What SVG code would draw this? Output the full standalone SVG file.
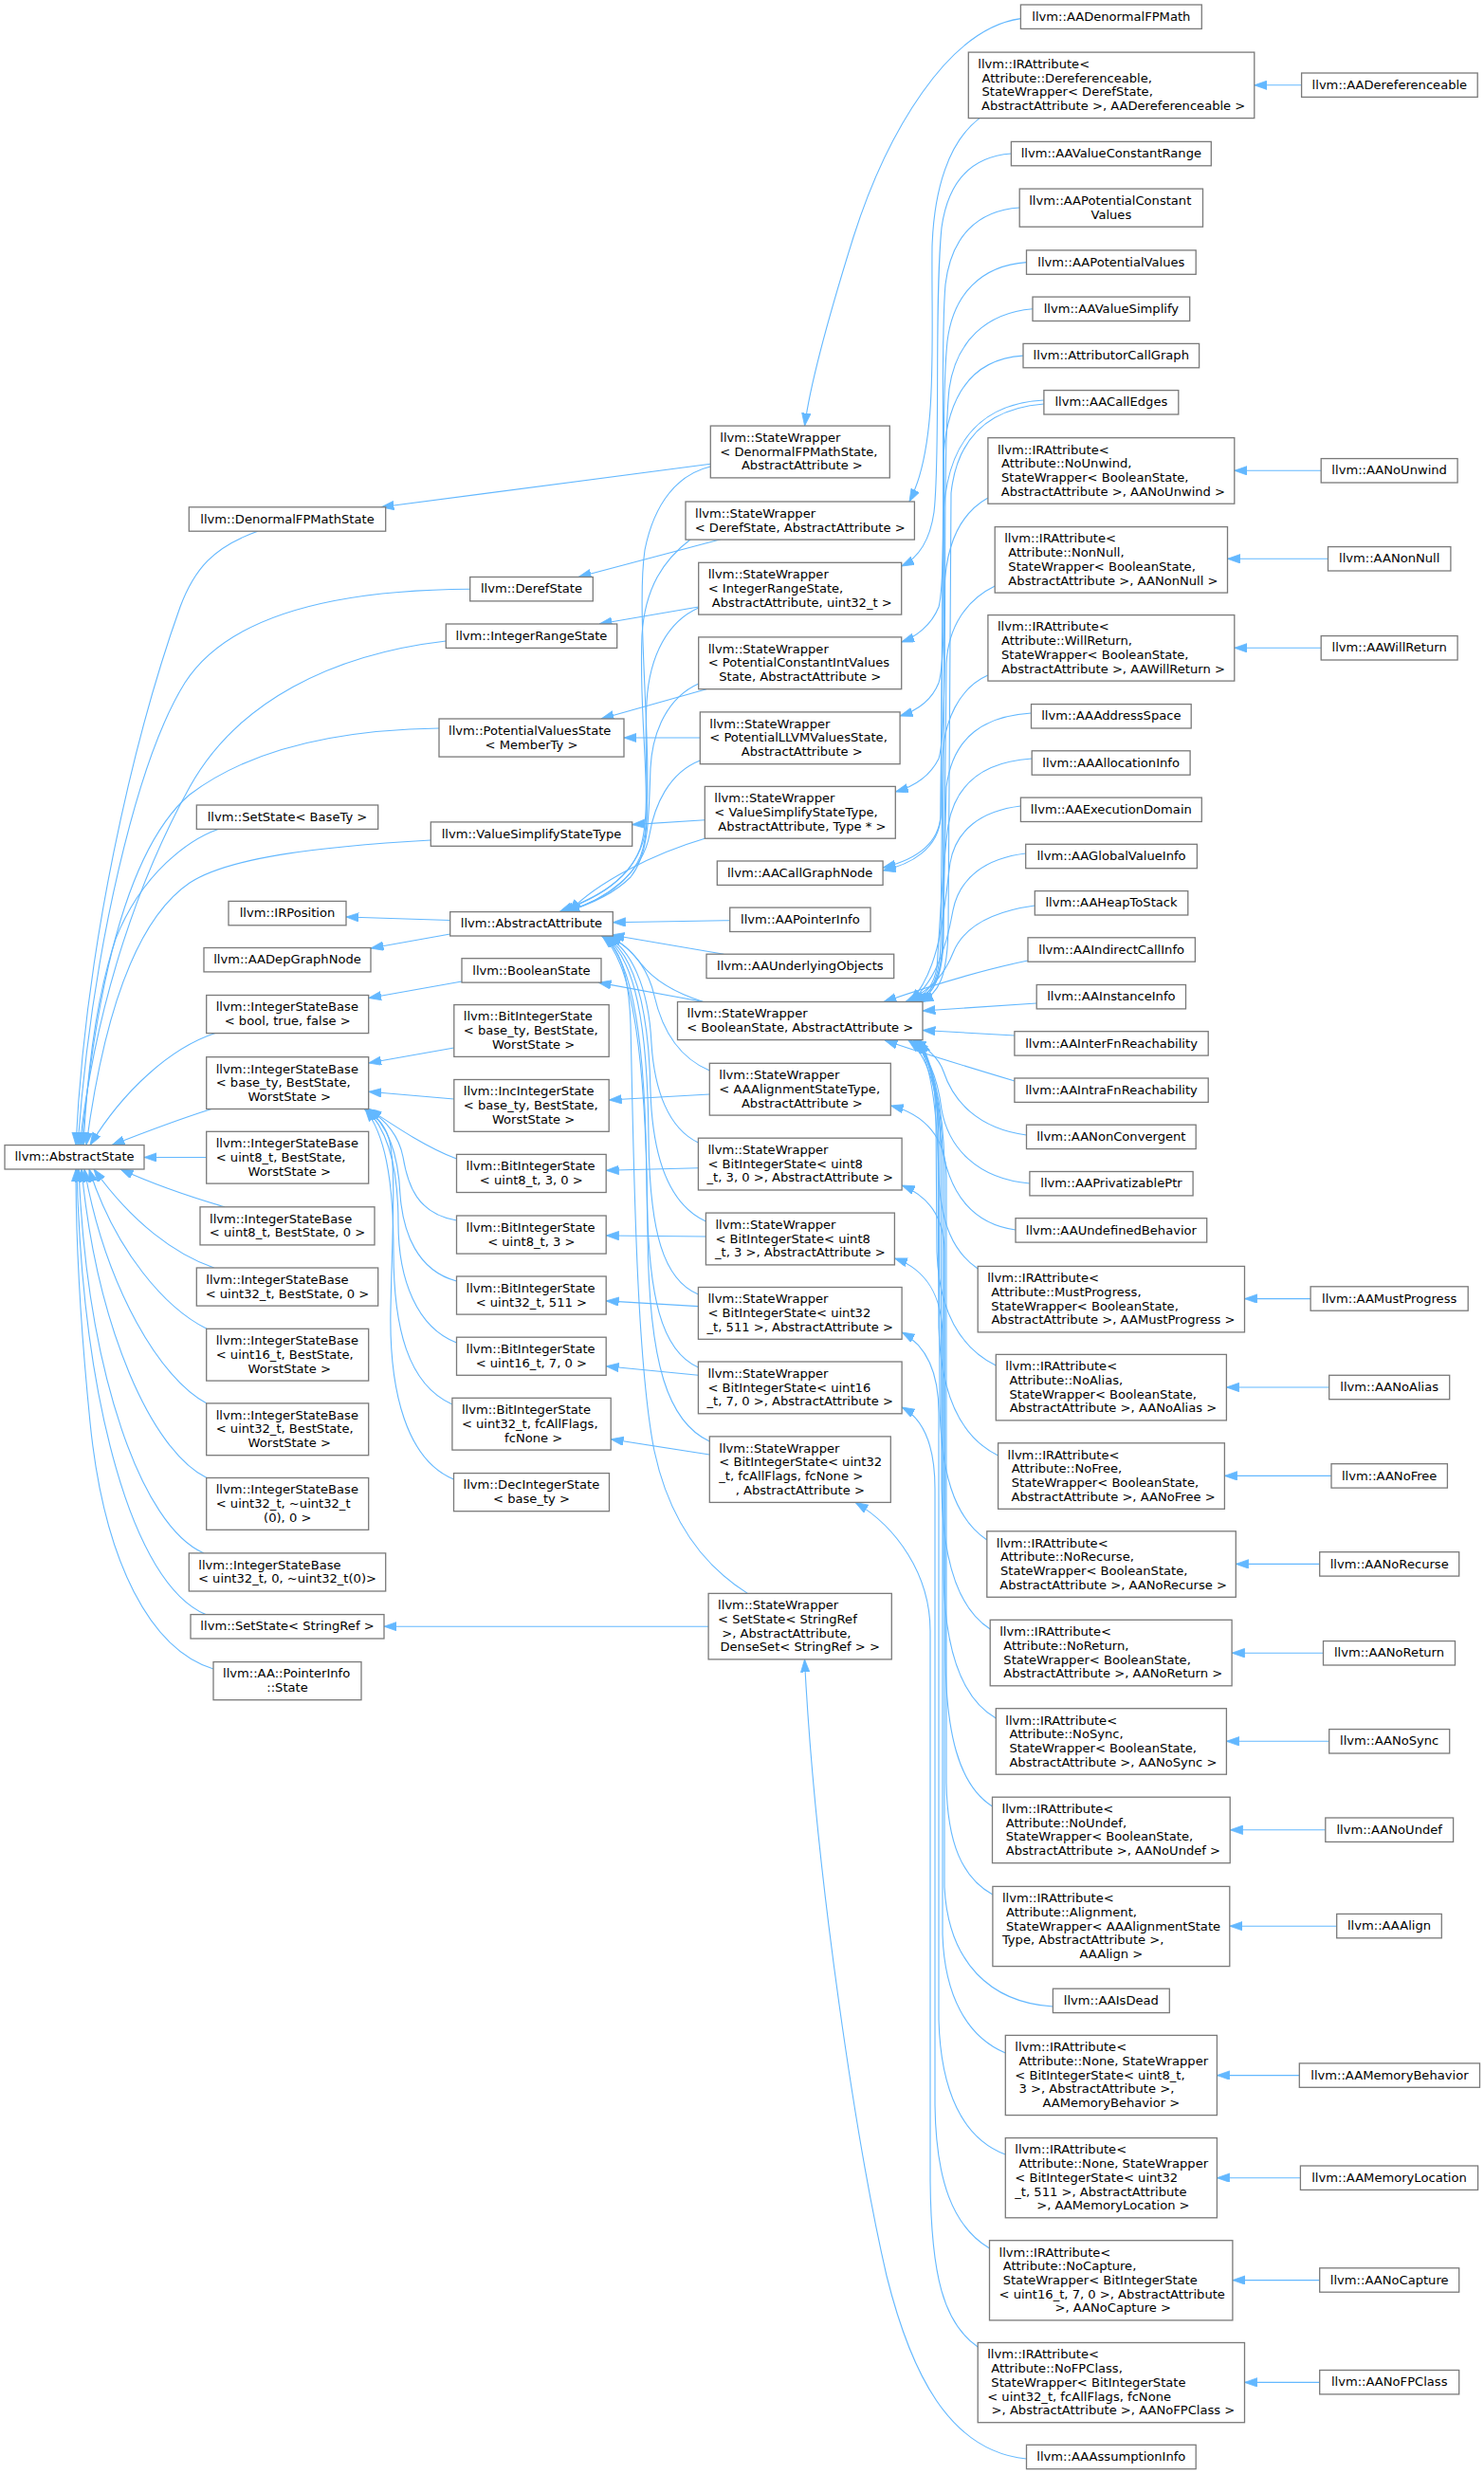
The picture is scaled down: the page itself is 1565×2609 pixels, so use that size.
<svg xmlns="http://www.w3.org/2000/svg" width="1565" height="2609" viewBox="0 0 1565 2609">
<defs>
<style>
.n rect{fill:#fff;stroke:#7a7a7a;stroke-width:1.3}
text{font-family:"DejaVu Sans","Liberation Sans",sans-serif;font-size:13.1px;fill:#000}
.c{text-anchor:middle}
#edges path{fill:none;stroke:#63b8ff;stroke-width:1.1;marker-end:url(#a)}
</style>
<marker id="a" markerUnits="userSpaceOnUse" markerWidth="14" markerHeight="10" refX="13.4" refY="4.7" orient="auto" viewBox="0 0 14 10"><path d="M0,0 L13.4,4.7 L0,9.4 z" fill="#63b8ff" stroke="#63b8ff" stroke-width="0.8"/></marker>
</defs>
<rect width="1565" height="2609" fill="#fff"/>
<g id="edges">
<path d="M271.7,560.2 C225,577 205,600 190,640 C140,780 90,1000 80,1207.6"/>
<path d="M495.7,621.2 C350,622 240,650 195,720 C145,800 97,1000 82,1207.6"/>
<path d="M470.3,676 C350,690 250,740 200,830 C150,920 102,1050 84,1207.6"/>
<path d="M463,768 C330,770 250,800 200,838 C145,885 105,1000 86,1207.6"/>
<path d="M230,874.4 C200,885 150,920 122,990 C102,1050 92,1130 88,1207.6"/>
<path d="M454.3,886 C330,893 240,905 200,931 C150,965 112,1050 91,1207.6"/>
<path d="M227,1089.6 C180,1105 130,1150 95,1207.6"/>
<path d="M223,1169.5 C190,1180 150,1195 118,1207.6"/>
<path d="M217.7,1220.5 L152,1220.5"/>
<path d="M237,1272.8 C200,1262 160,1248 127,1233"/>
<path d="M225.7,1337 C185,1323 140,1290 99,1233"/>
<path d="M218,1401.3 C175,1380 122,1320 94,1233"/>
<path d="M218,1480 C170,1455 112,1360 89,1233"/>
<path d="M218,1558.5 C160,1530 102,1400 86,1233"/>
<path d="M215,1637.9 C150,1610 92,1450 83,1233"/>
<path d="M217,1702.6 C140,1670 87,1480 81,1233"/>
<path d="M225,1760 C160,1740 110,1650 95,1500 C85,1400 80,1300 80,1233"/>
<path d="M474.7,970.5 L365,967"/>
<path d="M474.7,985 L391,1000"/>
<path d="M487,1035 L388.7,1052.5"/>
<path d="M478.8,1105 L388.7,1121"/>
<path d="M478.8,1159 L388.7,1151.3"/>
<path d="M481.5,1222 C450,1210 420,1190 389,1169.5"/>
<path d="M481.5,1287 C440,1280 430,1250 425,1220 C420,1195 405,1180 388,1169.5"/>
<path d="M481.5,1351 C440,1340 425,1300 422,1260 C420,1215 408,1185 387,1169.5"/>
<path d="M481.5,1416 C440,1400 420,1350 420,1290 C420,1230 408,1190 386,1169.5"/>
<path d="M476.9,1481 C430,1460 415,1400 415,1320 C415,1240 405,1195 385,1169.5"/>
<path d="M478.5,1560 C430,1540 410,1470 412,1380 C414,1290 418,1230 410,1200 C405,1185 395,1175 384,1169.5"/>
<path d="M749.3,489.3 L402,534.8"/>
<path d="M760,568.7 L610,608.5"/>
<path d="M736.7,640 L632,658"/>
<path d="M745,726.7 L634,758"/>
<path d="M738.3,778 L658,778"/>
<path d="M743.3,864.7 L666.7,869.6"/>
<path d="M741.7,1056.5 L631,1036.1"/>
<path d="M748.3,1154 L642.2,1160"/>
<path d="M736.4,1231.7 L639.2,1234.3"/>
<path d="M744.4,1304 L639.2,1303"/>
<path d="M736.4,1377.6 L639.2,1371.9"/>
<path d="M736.4,1450.3 L639.2,1440.8"/>
<path d="M748.3,1534 L644.2,1517.8"/>
<path d="M747.1,1715.2 L405,1715.2"/>
<path d="M769.7,970.7 L646.3,972.7"/>
<path d="M763.3,1006.2 L645,986"/>
<path d="M749.3,492 C715,500 690,530 680,580 C670,650 690,800 680,880 C670,930 620,950 590,961.6"/>
<path d="M728.3,568.7 C700,590 680,620 677,670 C673,760 690,850 675,895 C660,935 615,952 592,961.6"/>
<path d="M736.7,641 C705,655 685,690 682,740 C678,820 690,880 672,910 C655,940 620,955 594,961.6"/>
<path d="M736.7,721 C705,735 688,770 686,810 C684,860 685,900 665,925 C645,945 615,956 596,961.6"/>
<path d="M738.3,802 C705,815 690,850 685,880 C678,920 640,948 598,961.6"/>
<path d="M743.3,884.3 C690,900 630,930 600,961.6"/>
<path d="M741.7,1056.5 C715,1048 690,1035 675,1015 C665,1002 655,993 642,987"/>
<path d="M748.3,1129 C715,1115 698,1085 690,1050 C682,1015 660,995 640,987"/>
<path d="M736.4,1205 C705,1190 690,1150 687,1100 C684,1040 665,1000 639,987"/>
<path d="M744.4,1288 C705,1270 688,1220 686,1150 C684,1060 668,1005 638,987"/>
<path d="M736.4,1365 C700,1350 685,1300 684,1200 C683,1080 670,1010 637,987"/>
<path d="M736.4,1442 C698,1425 683,1370 682,1250 C681,1100 668,1012 636,987"/>
<path d="M748.3,1520 C705,1500 684,1440 683,1300 C682,1120 668,1015 635,987"/>
<path d="M788.4,1680.4 C740,1650 705,1600 690,1530 C670,1430 668,1200 665,1080 C663,1020 650,995 634,987"/>
<path d="M1076.4,19.6 C1000,30 935,140 900,250 C875,330 855,400 848.6,449.1"/>
<path d="M1033,124.6 C1000,150 985,200 983,260 C982,360 990,470 959,529"/>
<path d="M1066.4,162 C1025,165 1000,190 993,240 C985,320 992,480 985,540 C980,575 965,590 950.7,597"/>
<path d="M1075.2,219 C1030,222 1003,250 997,300 C990,380 1000,600 990,640 C982,660 965,672 950.7,677"/>
<path d="M1082.5,276.6 C1035,280 1005,310 999,360 C990,450 1002,680 990,720 C982,740 965,750 949.1,755"/>
<path d="M1089,325.8 C1040,330 1008,360 1001,410 C992,500 1002,760 990,800 C980,820 962,830 944.3,835"/>
<path d="M1079,375.1 C1030,378 1000,410 995,480 L992,860 C990,893 960,908 931.1,915"/>
<path d="M1100.9,422 C1040,425 1000,460 995,540 L992,862 C990,895 960,912 931.1,918"/>
<path d="M1100.9,426 C1050,430 1010,455 1003,520 L1000,980 C999,1030 990,1048 971,1056.5"/>
<path d="M1041.9,525 C1015,540 998,570 996,620 L994,990 C993,1030 985,1048 969,1056.5"/>
<path d="M1049.2,618 C1020,632 1000,660 998,700 L995,990 C994,1030 985,1048 968,1056.5"/>
<path d="M1041.9,712 C1012,725 995,760 994,800 L992,995 C991,1030 983,1048 966,1056.5"/>
<path d="M1087.5,752 C1040,755 1005,775 998,830 L994,995 C993,1032 982,1049 964,1056.5"/>
<path d="M1088.2,800 C1040,803 1008,825 1000,870 C993,920 990,1000 988,1020 C985,1040 975,1050 962,1056.5"/>
<path d="M1076.4,850 C1035,855 1008,875 1002,910 C995,960 993,1020 960,1056.5"/>
<path d="M1081.7,900 C1040,905 1012,925 1005,960 C998,1000 985,1040 958,1056.5"/>
<path d="M1091.3,955 C1040,962 1015,980 1005,1005 C995,1030 980,1045 955,1056.5"/>
<path d="M1084,1013 C1040,1022 980,1040 932,1056.5"/>
<path d="M1093.2,1058 L973,1066"/>
<path d="M1069.9,1092 L973,1086.5"/>
<path d="M1069.9,1140 C1020,1125 970,1110 933,1097"/>
<path d="M1082.5,1197 C1030,1190 1005,1160 995,1130 C990,1115 975,1103 963,1097"/>
<path d="M1085.9,1248 C1030,1243 1000,1210 993,1170 C988,1130 975,1108 960,1097"/>
<path d="M1071,1297 C1020,1290 998,1250 992,1200 C988,1140 975,1110 958,1097"/>
<path d="M1031.2,1338 C1005,1320 992,1290 990,1240 C988,1150 978,1112 965,1097"/>
<path d="M1050.3,1440 C1010,1420 990,1380 988,1320 L987,1180 C986,1130 978,1110 966,1097"/>
<path d="M1052.6,1535 C1012,1515 992,1470 990,1400 L989,1190 C988,1135 977,1112 967,1097"/>
<path d="M1040.8,1624 C1005,1600 992,1550 991,1480 L990,1200 C989,1140 976,1113 968,1097"/>
<path d="M1044.2,1718 C1008,1695 994,1640 993,1570 L992,1210 C991,1145 977,1114 969,1097"/>
<path d="M1050.3,1812 C1012,1790 996,1735 995,1660 L994,1220 C993,1150 978,1115 970,1097"/>
<path d="M1046.5,1905 C1010,1882 998,1825 997,1750 L996,1230 C995,1155 979,1116 971,1097"/>
<path d="M1046.9,1998 C1015,1980 999,1945 998,1880 L998,1240 C998,1200 975,1175 939.3,1166"/>
<path d="M1110.4,2116 C1045,2112 1000,2070 996,1990 L996,1320 C996,1285 980,1262 951.1,1250"/>
<path d="M1060.3,2165 C1020,2148 996,2105 994,2040 L994,1410 C994,1365 975,1338 943.4,1327"/>
<path d="M1060.3,2272 C1015,2255 992,2205 990,2130 L990,1490 C990,1445 975,1418 951.1,1405"/>
<path d="M1043.5,2371 C1005,2348 987,2300 986,2220 L986,1570 C986,1525 975,1497 951.1,1484"/>
<path d="M1031.2,2475 C995,2450 982,2400 981,2300 L981,1720 C981,1660 945,1610 902,1584.4"/>
<path d="M1082.5,2593 C1000,2585 960,2500 935,2400 C905,2270 860,1980 848.5,1750"/>
<path d="M1372.6,89.8 L1322.8,89.8"/>
<path d="M1393.2,496.3 L1301.8,496.3"/>
<path d="M1400.5,589.3 L1294.5,589.3"/>
<path d="M1393.2,683.3 L1301.8,683.3"/>
<path d="M1382.1,1369.6 L1312.5,1369.6"/>
<path d="M1401.7,1463 L1293.4,1463"/>
<path d="M1404,1556.4 L1291.4,1556.4"/>
<path d="M1391.7,1649.4 L1303.3,1649.4"/>
<path d="M1395.5,1743.2 L1299.1,1743.2"/>
<path d="M1401.7,1836.3 L1293.4,1836.3"/>
<path d="M1397.8,1929.8 L1297.2,1929.8"/>
<path d="M1409.7,2031.2 L1296.8,2031.2"/>
<path d="M1370.3,2188.6 L1283.4,2188.6"/>
<path d="M1371.4,2296.7 L1283.4,2296.7"/>
<path d="M1391.7,2404.6 L1299.9,2404.6"/>
<path d="M1391.7,2512.4 L1312.5,2512.4"/>
</g>
<g id="nAbstractState" class="n" transform="translate(5,1207.6)"><rect width="147" height="25.4"/><text class="c" x="73.5" y="16.9">llvm::AbstractState</text></g>
<g id="nDenormalFPMathState" class="n" transform="translate(199.3,534.8)"><rect width="207.4" height="25.4"/><text class="c" x="103.7" y="16.9">llvm::DenormalFPMathState</text></g>
<g id="nSetStateBaseTy" class="n" transform="translate(207.3,849)"><rect width="191.4" height="25.4"/><text class="c" x="95.7" y="16.9">llvm::SetState&lt; BaseTy &gt;</text></g>
<g id="nIRPosition" class="n" transform="translate(241,950.4)"><rect width="124" height="25.4"/><text class="c" x="62" y="16.9">llvm::IRPosition</text></g>
<g id="nAADepGraphNode" class="n" transform="translate(215,999.5)"><rect width="176" height="25.4"/><text class="c" x="88" y="16.9">llvm::AADepGraphNode</text></g>
<g id="nISBbool" class="n" transform="translate(217.7,1049.5)"><rect width="171" height="40.1"/><text xml:space="preserve"><tspan x="10" y="16.9">llvm::IntegerStateBase</tspan><tspan class="c" x="85.5" y="31.6">&lt; bool, true, false &gt;</tspan></text></g>
<g id="nISBbase" class="n" transform="translate(217.7,1114.7)"><rect width="171" height="54.8"/><text xml:space="preserve"><tspan x="10" y="16.9">llvm::IntegerStateBase</tspan><tspan x="10" y="31.6">&lt; base_ty, BestState,</tspan><tspan class="c" x="85.5" y="46.3"> WorstState &gt;</tspan></text></g>
<g id="nISBu8bw" class="n" transform="translate(217.7,1193.3)"><rect width="171" height="54.8"/><text xml:space="preserve"><tspan x="10" y="16.9">llvm::IntegerStateBase</tspan><tspan x="10" y="31.6">&lt; uint8_t, BestState,</tspan><tspan class="c" x="85.5" y="46.3"> WorstState &gt;</tspan></text></g>
<g id="nISBu8b0" class="n" transform="translate(211,1272.8)"><rect width="184" height="40.1"/><text xml:space="preserve"><tspan x="10" y="16.9">llvm::IntegerStateBase</tspan><tspan class="c" x="92" y="31.6">&lt; uint8_t, BestState, 0 &gt;</tspan></text></g>
<g id="nISBu32b0" class="n" transform="translate(207.3,1337)"><rect width="191.4" height="40.1"/><text xml:space="preserve"><tspan x="10" y="16.9">llvm::IntegerStateBase</tspan><tspan class="c" x="95.7" y="31.6">&lt; uint32_t, BestState, 0 &gt;</tspan></text></g>
<g id="nISBu16bw" class="n" transform="translate(217.7,1401.3)"><rect width="171" height="54.8"/><text xml:space="preserve"><tspan x="10" y="16.9">llvm::IntegerStateBase</tspan><tspan x="10" y="31.6">&lt; uint16_t, BestState,</tspan><tspan class="c" x="85.5" y="46.3"> WorstState &gt;</tspan></text></g>
<g id="nISBu32bw" class="n" transform="translate(217.7,1479.9)"><rect width="171" height="54.8"/><text xml:space="preserve"><tspan x="10" y="16.9">llvm::IntegerStateBase</tspan><tspan x="10" y="31.6">&lt; uint32_t, BestState,</tspan><tspan class="c" x="85.5" y="46.3"> WorstState &gt;</tspan></text></g>
<g id="nISBu32max0" class="n" transform="translate(217.7,1558.5)"><rect width="171" height="54.8"/><text xml:space="preserve"><tspan x="10" y="16.9">llvm::IntegerStateBase</tspan><tspan x="10" y="31.6">&lt; uint32_t, ~uint32_t</tspan><tspan class="c" x="85.5" y="46.3">(0), 0 &gt;</tspan></text></g>
<g id="nISBu320max" class="n" transform="translate(199.3,1637.9)"><rect width="207.4" height="40.1"/><text xml:space="preserve"><tspan x="10" y="16.9">llvm::IntegerStateBase</tspan><tspan class="c" x="103.7" y="31.6">&lt; uint32_t, 0, ~uint32_t(0)&gt;</tspan></text></g>
<g id="nSetStateStringRef" class="n" transform="translate(201,1702.6)"><rect width="204" height="25.4"/><text class="c" x="102" y="16.9">llvm::SetState&lt; StringRef &gt;</text></g>
<g id="nPointerInfoState" class="n" transform="translate(225,1752.6)"><rect width="156" height="40.1"/><text xml:space="preserve"><tspan x="10" y="16.9">llvm::AA::PointerInfo</tspan><tspan class="c" x="78" y="31.6">::State</tspan></text></g>
<g id="nDerefState" class="n" transform="translate(495.7,608.5)"><rect width="129.6" height="25.4"/><text class="c" x="64.8" y="16.9">llvm::DerefState</text></g>
<g id="nIntegerRangeState" class="n" transform="translate(470.3,658)"><rect width="180.4" height="25.4"/><text class="c" x="90.2" y="16.9">llvm::IntegerRangeState</text></g>
<g id="nPotentialValuesState" class="n" transform="translate(463,758)"><rect width="195" height="40.1"/><text xml:space="preserve"><tspan x="10" y="16.9">llvm::PotentialValuesState</tspan><tspan class="c" x="97.5" y="31.6">&lt; MemberTy &gt;</tspan></text></g>
<g id="nValueSimplifyStateType" class="n" transform="translate(454.3,866.9)"><rect width="212.4" height="25.4"/><text class="c" x="106.2" y="16.9">llvm::ValueSimplifyStateType</text></g>
<g id="nAbstractAttribute" class="n" transform="translate(474.7,961.6)"><rect width="171.6" height="25.4"/><text class="c" x="85.8" y="16.9">llvm::AbstractAttribute</text></g>
<g id="nBooleanState" class="n" transform="translate(487,1010.7)"><rect width="147" height="25.4"/><text class="c" x="73.5" y="16.9">llvm::BooleanState</text></g>
<g id="nBISbase" class="n" transform="translate(478.8,1059.6)"><rect width="163.4" height="54.8"/><text xml:space="preserve"><tspan x="10" y="16.9">llvm::BitIntegerState</tspan><tspan x="10" y="31.6">&lt; base_ty, BestState,</tspan><tspan class="c" x="81.7" y="46.3"> WorstState &gt;</tspan></text></g>
<g id="nIncIntegerState" class="n" transform="translate(478.8,1138.5)"><rect width="163.4" height="54.8"/><text xml:space="preserve"><tspan x="10" y="16.9">llvm::IncIntegerState</tspan><tspan x="10" y="31.6">&lt; base_ty, BestState,</tspan><tspan class="c" x="81.7" y="46.3"> WorstState &gt;</tspan></text></g>
<g id="nBISu830" class="n" transform="translate(481.5,1217.4)"><rect width="157.7" height="40.1"/><text xml:space="preserve"><tspan x="10" y="16.9">llvm::BitIntegerState</tspan><tspan class="c" x="78.85" y="31.6">&lt; uint8_t, 3, 0 &gt;</tspan></text></g>
<g id="nBISu83" class="n" transform="translate(481.5,1282)"><rect width="157.7" height="40.1"/><text xml:space="preserve"><tspan x="10" y="16.9">llvm::BitIntegerState</tspan><tspan class="c" x="78.85" y="31.6">&lt; uint8_t, 3 &gt;</tspan></text></g>
<g id="nBISu32511" class="n" transform="translate(481.5,1346)"><rect width="157.7" height="40.1"/><text xml:space="preserve"><tspan x="10" y="16.9">llvm::BitIntegerState</tspan><tspan class="c" x="78.85" y="31.6">&lt; uint32_t, 511 &gt;</tspan></text></g>
<g id="nBISu1670" class="n" transform="translate(481.5,1410.2)"><rect width="157.7" height="40.1"/><text xml:space="preserve"><tspan x="10" y="16.9">llvm::BitIntegerState</tspan><tspan class="c" x="78.85" y="31.6">&lt; uint16_t, 7, 0 &gt;</tspan></text></g>
<g id="nBISfc" class="n" transform="translate(476.9,1474.3)"><rect width="167.3" height="54.8"/><text xml:space="preserve"><tspan x="10" y="16.9">llvm::BitIntegerState</tspan><tspan x="10" y="31.6">&lt; uint32_t, fcAllFlags,</tspan><tspan class="c" x="83.65" y="46.3"> fcNone &gt;</tspan></text></g>
<g id="nDecIntegerState" class="n" transform="translate(478.5,1553.6)"><rect width="164" height="40.1"/><text xml:space="preserve"><tspan x="10" y="16.9">llvm::DecIntegerState</tspan><tspan class="c" x="82" y="31.6">&lt; base_ty &gt;</tspan></text></g>
<g id="nSWdenorm" class="n" transform="translate(749.3,449.1)"><rect width="189" height="54.8"/><text xml:space="preserve"><tspan x="10" y="16.9">llvm::StateWrapper</tspan><tspan x="10" y="31.6">&lt; DenormalFPMathState,</tspan><tspan class="c" x="94.5" y="46.3"> AbstractAttribute &gt;</tspan></text></g>
<g id="nSWderef" class="n" transform="translate(723,529)"><rect width="241.4" height="40.1"/><text xml:space="preserve"><tspan x="10" y="16.9">llvm::StateWrapper</tspan><tspan class="c" x="120.7" y="31.6">&lt; DerefState, AbstractAttribute &gt;</tspan></text></g>
<g id="nSWintrange" class="n" transform="translate(736.7,593.3)"><rect width="214" height="54.8"/><text xml:space="preserve"><tspan x="10" y="16.9">llvm::StateWrapper</tspan><tspan x="10" y="31.6">&lt; IntegerRangeState,</tspan><tspan class="c" x="107" y="46.3"> AbstractAttribute, uint32_t &gt;</tspan></text></g>
<g id="nSWpcint" class="n" transform="translate(736.7,671.9)"><rect width="214" height="54.8"/><text xml:space="preserve"><tspan x="10" y="16.9">llvm::StateWrapper</tspan><tspan x="10" y="31.6">&lt; PotentialConstantIntValues</tspan><tspan class="c" x="107" y="46.3">State, AbstractAttribute &gt;</tspan></text></g>
<g id="nSWpllvm" class="n" transform="translate(738.3,750.9)"><rect width="210.8" height="54.8"/><text xml:space="preserve"><tspan x="10" y="16.9">llvm::StateWrapper</tspan><tspan x="10" y="31.6">&lt; PotentialLLVMValuesState,</tspan><tspan class="c" x="105.4" y="46.3"> AbstractAttribute &gt;</tspan></text></g>
<g id="nSWvsst" class="n" transform="translate(743.3,829.4)"><rect width="201" height="54.8"/><text xml:space="preserve"><tspan x="10" y="16.9">llvm::StateWrapper</tspan><tspan x="10" y="31.6">&lt; ValueSimplifyStateType,</tspan><tspan class="c" x="100.5" y="46.3"> AbstractAttribute, Type * &gt;</tspan></text></g>
<g id="nAACallGraphNode" class="n" transform="translate(756.3,908)"><rect width="174.8" height="25.4"/><text class="c" x="87.4" y="16.9">llvm::AACallGraphNode</text></g>
<g id="nAAPointerInfo" class="n" transform="translate(769.7,957.1)"><rect width="148.3" height="25.4"/><text class="c" x="74.15" y="16.9">llvm::AAPointerInfo</text></g>
<g id="nAAUnderlyingObjects" class="n" transform="translate(745,1006.2)"><rect width="197.7" height="25.4"/><text class="c" x="98.85" y="16.9">llvm::AAUnderlyingObjects</text></g>
<g id="nSWbool" class="n" transform="translate(714.5,1056.5)"><rect width="258.5" height="40.1"/><text xml:space="preserve"><tspan x="10" y="16.9">llvm::StateWrapper</tspan><tspan class="c" x="129.25" y="31.6">&lt; BooleanState, AbstractAttribute &gt;</tspan></text></g>
<g id="nSWalign" class="n" transform="translate(748.3,1121.3)"><rect width="191" height="54.8"/><text xml:space="preserve"><tspan x="10" y="16.9">llvm::StateWrapper</tspan><tspan x="10" y="31.6">&lt; AAAlignmentStateType,</tspan><tspan class="c" x="95.5" y="46.3"> AbstractAttribute &gt;</tspan></text></g>
<g id="nSWu830" class="n" transform="translate(736.4,1200.2)"><rect width="214.7" height="54.8"/><text xml:space="preserve"><tspan x="10" y="16.9">llvm::StateWrapper</tspan><tspan x="10" y="31.6">&lt; BitIntegerState&lt; uint8</tspan><tspan class="c" x="107.35" y="46.3">_t, 3, 0 &gt;, AbstractAttribute &gt;</tspan></text></g>
<g id="nSWu83" class="n" transform="translate(744.4,1279.1)"><rect width="199" height="54.8"/><text xml:space="preserve"><tspan x="10" y="16.9">llvm::StateWrapper</tspan><tspan x="10" y="31.6">&lt; BitIntegerState&lt; uint8</tspan><tspan class="c" x="99.5" y="46.3">_t, 3 &gt;, AbstractAttribute &gt;</tspan></text></g>
<g id="nSWu32511" class="n" transform="translate(736.4,1357.5)"><rect width="214.7" height="54.8"/><text xml:space="preserve"><tspan x="10" y="16.9">llvm::StateWrapper</tspan><tspan x="10" y="31.6">&lt; BitIntegerState&lt; uint32</tspan><tspan class="c" x="107.35" y="46.3">_t, 511 &gt;, AbstractAttribute &gt;</tspan></text></g>
<g id="nSWu1670" class="n" transform="translate(736.4,1436)"><rect width="214.7" height="54.8"/><text xml:space="preserve"><tspan x="10" y="16.9">llvm::StateWrapper</tspan><tspan x="10" y="31.6">&lt; BitIntegerState&lt; uint16</tspan><tspan class="c" x="107.35" y="46.3">_t, 7, 0 &gt;, AbstractAttribute &gt;</tspan></text></g>
<g id="nSWfc" class="n" transform="translate(748.3,1514.9)"><rect width="191" height="69.5"/><text xml:space="preserve"><tspan x="10" y="16.9">llvm::StateWrapper</tspan><tspan x="10" y="31.6">&lt; BitIntegerState&lt; uint32</tspan><tspan x="10" y="46.3">_t, fcAllFlags, fcNone &gt;</tspan><tspan class="c" x="95.5" y="61">, AbstractAttribute &gt;</tspan></text></g>
<g id="nSWset" class="n" transform="translate(747.1,1680.4)"><rect width="193.2" height="69.5"/><text xml:space="preserve"><tspan x="10" y="16.9">llvm::StateWrapper</tspan><tspan x="10" y="31.6">&lt; SetState&lt; StringRef</tspan><tspan x="10" y="46.3"> &gt;, AbstractAttribute,</tspan><tspan class="c" x="96.6" y="61">DenseSet&lt; StringRef &gt; &gt;</tspan></text></g>
<g id="nAADenormalFPMath" class="n" transform="translate(1076.4,5)"><rect width="190.9" height="25.4"/><text class="c" x="95.45" y="16.9">llvm::AADenormalFPMath</text></g>
<g id="nIRAderef" class="n" transform="translate(1021.3,55.1)"><rect width="301.5" height="69.5"/><text xml:space="preserve"><tspan x="10" y="16.9">llvm::IRAttribute&lt;</tspan><tspan x="10" y="31.6"> Attribute::Dereferenceable,</tspan><tspan x="10" y="46.3"> StateWrapper&lt; DerefState,</tspan><tspan class="c" x="150.75" y="61"> AbstractAttribute &gt;, AADereferenceable &gt;</tspan></text></g>
<g id="nAAValueConstantRange" class="n" transform="translate(1066.4,149.4)"><rect width="210.9" height="25.4"/><text class="c" x="105.45" y="16.9">llvm::AAValueConstantRange</text></g>
<g id="nAAPotentialConstantValues" class="n" transform="translate(1075.2,199.1)"><rect width="193.3" height="40.1"/><text xml:space="preserve"><tspan x="10" y="16.9">llvm::AAPotentialConstant</tspan><tspan class="c" x="96.65" y="31.6">Values</tspan></text></g>
<g id="nAAPotentialValues" class="n" transform="translate(1082.5,263.9)"><rect width="178.7" height="25.4"/><text class="c" x="89.35" y="16.9">llvm::AAPotentialValues</text></g>
<g id="nAAValueSimplify" class="n" transform="translate(1089,313.1)"><rect width="165.7" height="25.4"/><text class="c" x="82.85" y="16.9">llvm::AAValueSimplify</text></g>
<g id="nAttributorCallGraph" class="n" transform="translate(1079,362.4)"><rect width="185.6" height="25.4"/><text class="c" x="92.8" y="16.9">llvm::AttributorCallGraph</text></g>
<g id="nAACallEdges" class="n" transform="translate(1100.9,411.6)"><rect width="141.9" height="25.4"/><text class="c" x="70.95" y="16.9">llvm::AACallEdges</text></g>
<g id="nIRAnounwind" class="n" transform="translate(1041.9,461.7)"><rect width="259.9" height="69.5"/><text xml:space="preserve"><tspan x="10" y="16.9">llvm::IRAttribute&lt;</tspan><tspan x="10" y="31.6"> Attribute::NoUnwind,</tspan><tspan x="10" y="46.3"> StateWrapper&lt; BooleanState,</tspan><tspan class="c" x="129.95" y="61"> AbstractAttribute &gt;, AANoUnwind &gt;</tspan></text></g>
<g id="nIRAnonnull" class="n" transform="translate(1049.2,555.6)"><rect width="245.3" height="69.5"/><text xml:space="preserve"><tspan x="10" y="16.9">llvm::IRAttribute&lt;</tspan><tspan x="10" y="31.6"> Attribute::NonNull,</tspan><tspan x="10" y="46.3"> StateWrapper&lt; BooleanState,</tspan><tspan class="c" x="122.65" y="61"> AbstractAttribute &gt;, AANonNull &gt;</tspan></text></g>
<g id="nIRAwillreturn" class="n" transform="translate(1041.9,648.6)"><rect width="259.9" height="69.5"/><text xml:space="preserve"><tspan x="10" y="16.9">llvm::IRAttribute&lt;</tspan><tspan x="10" y="31.6"> Attribute::WillReturn,</tspan><tspan x="10" y="46.3"> StateWrapper&lt; BooleanState,</tspan><tspan class="c" x="129.95" y="61"> AbstractAttribute &gt;, AAWillReturn &gt;</tspan></text></g>
<g id="nAAAddressSpace" class="n" transform="translate(1087.5,742.6)"><rect width="168.7" height="25.4"/><text class="c" x="84.35" y="16.9">llvm::AAAddressSpace</text></g>
<g id="nAAAllocationInfo" class="n" transform="translate(1088.2,791.8)"><rect width="166.9" height="25.4"/><text class="c" x="83.45" y="16.9">llvm::AAAllocationInfo</text></g>
<g id="nAAExecutionDomain" class="n" transform="translate(1076.4,841.1)"><rect width="190.9" height="25.4"/><text class="c" x="95.45" y="16.9">llvm::AAExecutionDomain</text></g>
<g id="nAAGlobalValueInfo" class="n" transform="translate(1081.7,890.3)"><rect width="180.7" height="25.4"/><text class="c" x="90.35" y="16.9">llvm::AAGlobalValueInfo</text></g>
<g id="nAAHeapToStack" class="n" transform="translate(1091.3,939.6)"><rect width="161.5" height="25.4"/><text class="c" x="80.75" y="16.9">llvm::AAHeapToStack</text></g>
<g id="nAAIndirectCallInfo" class="n" transform="translate(1084,988.8)"><rect width="176.4" height="25.4"/><text class="c" x="88.2" y="16.9">llvm::AAIndirectCallInfo</text></g>
<g id="nAAInstanceInfo" class="n" transform="translate(1093.2,1038.5)"><rect width="157.3" height="25.4"/><text class="c" x="78.65" y="16.9">llvm::AAInstanceInfo</text></g>
<g id="nAAInterFnReachability" class="n" transform="translate(1069.9,1087.7)"><rect width="204.3" height="25.4"/><text class="c" x="102.15" y="16.9">llvm::AAInterFnReachability</text></g>
<g id="nAAIntraFnReachability" class="n" transform="translate(1069.9,1137)"><rect width="204.3" height="25.4"/><text class="c" x="102.15" y="16.9">llvm::AAIntraFnReachability</text></g>
<g id="nAANonConvergent" class="n" transform="translate(1082.5,1186.2)"><rect width="178.7" height="25.4"/><text class="c" x="89.35" y="16.9">llvm::AANonConvergent</text></g>
<g id="nAAPrivatizablePtr" class="n" transform="translate(1085.9,1235.5)"><rect width="172.2" height="25.4"/><text class="c" x="86.1" y="16.9">llvm::AAPrivatizablePtr</text></g>
<g id="nAAUndefinedBehavior" class="n" transform="translate(1071,1284.7)"><rect width="201.7" height="25.4"/><text class="c" x="100.85" y="16.9">llvm::AAUndefinedBehavior</text></g>
<g id="nIRAmustprogress" class="n" transform="translate(1031.2,1335.4)"><rect width="281.3" height="69.5"/><text xml:space="preserve"><tspan x="10" y="16.9">llvm::IRAttribute&lt;</tspan><tspan x="10" y="31.6"> Attribute::MustProgress,</tspan><tspan x="10" y="46.3"> StateWrapper&lt; BooleanState,</tspan><tspan class="c" x="140.65" y="61"> AbstractAttribute &gt;, AAMustProgress &gt;</tspan></text></g>
<g id="nIRAnoalias" class="n" transform="translate(1050.3,1428.4)"><rect width="243.1" height="69.5"/><text xml:space="preserve"><tspan x="10" y="16.9">llvm::IRAttribute&lt;</tspan><tspan x="10" y="31.6"> Attribute::NoAlias,</tspan><tspan x="10" y="46.3"> StateWrapper&lt; BooleanState,</tspan><tspan class="c" x="121.55" y="61"> AbstractAttribute &gt;, AANoAlias &gt;</tspan></text></g>
<g id="nIRAnofree" class="n" transform="translate(1052.6,1521.8)"><rect width="238.8" height="69.5"/><text xml:space="preserve"><tspan x="10" y="16.9">llvm::IRAttribute&lt;</tspan><tspan x="10" y="31.6"> Attribute::NoFree,</tspan><tspan x="10" y="46.3"> StateWrapper&lt; BooleanState,</tspan><tspan class="c" x="119.4" y="61"> AbstractAttribute &gt;, AANoFree &gt;</tspan></text></g>
<g id="nIRAnorecurse" class="n" transform="translate(1040.8,1614.8)"><rect width="262.5" height="69.5"/><text xml:space="preserve"><tspan x="10" y="16.9">llvm::IRAttribute&lt;</tspan><tspan x="10" y="31.6"> Attribute::NoRecurse,</tspan><tspan x="10" y="46.3"> StateWrapper&lt; BooleanState,</tspan><tspan class="c" x="131.25" y="61"> AbstractAttribute &gt;, AANoRecurse &gt;</tspan></text></g>
<g id="nIRAnoreturn" class="n" transform="translate(1044.2,1708.3)"><rect width="254.9" height="69.5"/><text xml:space="preserve"><tspan x="10" y="16.9">llvm::IRAttribute&lt;</tspan><tspan x="10" y="31.6"> Attribute::NoReturn,</tspan><tspan x="10" y="46.3"> StateWrapper&lt; BooleanState,</tspan><tspan class="c" x="127.45" y="61"> AbstractAttribute &gt;, AANoReturn &gt;</tspan></text></g>
<g id="nIRAnosync" class="n" transform="translate(1050.3,1801.7)"><rect width="243.1" height="69.5"/><text xml:space="preserve"><tspan x="10" y="16.9">llvm::IRAttribute&lt;</tspan><tspan x="10" y="31.6"> Attribute::NoSync,</tspan><tspan x="10" y="46.3"> StateWrapper&lt; BooleanState,</tspan><tspan class="c" x="121.55" y="61"> AbstractAttribute &gt;, AANoSync &gt;</tspan></text></g>
<g id="nIRAnoundef" class="n" transform="translate(1046.5,1895.2)"><rect width="250.7" height="69.5"/><text xml:space="preserve"><tspan x="10" y="16.9">llvm::IRAttribute&lt;</tspan><tspan x="10" y="31.6"> Attribute::NoUndef,</tspan><tspan x="10" y="46.3"> StateWrapper&lt; BooleanState,</tspan><tspan class="c" x="125.35" y="61"> AbstractAttribute &gt;, AANoUndef &gt;</tspan></text></g>
<g id="nIRAalign" class="n" transform="translate(1046.9,1989.4)"><rect width="249.9" height="84.2"/><text xml:space="preserve"><tspan x="10" y="16.9">llvm::IRAttribute&lt;</tspan><tspan x="10" y="31.6"> Attribute::Alignment,</tspan><tspan x="10" y="46.3"> StateWrapper&lt; AAAlignmentState</tspan><tspan x="10" y="61">Type, AbstractAttribute &gt;,</tspan><tspan class="c" x="124.95" y="75.7">AAAlign &gt;</tspan></text></g>
<g id="nAAIsDead" class="n" transform="translate(1110.4,2097.2)"><rect width="122.9" height="25.4"/><text class="c" x="61.45" y="16.9">llvm::AAIsDead</text></g>
<g id="nIRAmembeh" class="n" transform="translate(1060.3,2146.4)"><rect width="223.1" height="84.2"/><text xml:space="preserve"><tspan x="10" y="16.9">llvm::IRAttribute&lt;</tspan><tspan x="10" y="31.6"> Attribute::None, StateWrapper</tspan><tspan x="10" y="46.3">&lt; BitIntegerState&lt; uint8_t,</tspan><tspan x="10" y="61"> 3 &gt;, AbstractAttribute &gt;,</tspan><tspan class="c" x="111.55" y="75.7">AAMemoryBehavior &gt;</tspan></text></g>
<g id="nIRAmemloc" class="n" transform="translate(1060.3,2254.6)"><rect width="223.1" height="84.2"/><text xml:space="preserve"><tspan x="10" y="16.9">llvm::IRAttribute&lt;</tspan><tspan x="10" y="31.6"> Attribute::None, StateWrapper</tspan><tspan x="10" y="46.3">&lt; BitIntegerState&lt; uint32</tspan><tspan x="10" y="61">_t, 511 &gt;, AbstractAttribute</tspan><tspan class="c" x="111.55" y="75.7"> &gt;, AAMemoryLocation &gt;</tspan></text></g>
<g id="nIRAnocapture" class="n" transform="translate(1043.5,2362.7)"><rect width="256.4" height="84.2"/><text xml:space="preserve"><tspan x="10" y="16.9">llvm::IRAttribute&lt;</tspan><tspan x="10" y="31.6"> Attribute::NoCapture,</tspan><tspan x="10" y="46.3"> StateWrapper&lt; BitIntegerState</tspan><tspan x="10" y="61">&lt; uint16_t, 7, 0 &gt;, AbstractAttribute</tspan><tspan class="c" x="128.2" y="75.7"> &gt;, AANoCapture &gt;</tspan></text></g>
<g id="nIRAnofpclass" class="n" transform="translate(1031.2,2470.5)"><rect width="281.3" height="84.2"/><text xml:space="preserve"><tspan x="10" y="16.9">llvm::IRAttribute&lt;</tspan><tspan x="10" y="31.6"> Attribute::NoFPClass,</tspan><tspan x="10" y="46.3"> StateWrapper&lt; BitIntegerState</tspan><tspan x="10" y="61">&lt; uint32_t, fcAllFlags, fcNone</tspan><tspan class="c" x="140.65" y="75.7"> &gt;, AbstractAttribute &gt;, AANoFPClass &gt;</tspan></text></g>
<g id="nAAAssumptionInfo" class="n" transform="translate(1082.5,2578.3)"><rect width="178.7" height="25.4"/><text class="c" x="89.35" y="16.9">llvm::AAAssumptionInfo</text></g>
<g id="nAADereferenceable" class="n" transform="translate(1372.6,77)"><rect width="185.6" height="25.4"/><text class="c" x="92.8" y="16.9">llvm::AADereferenceable</text></g>
<g id="nAANoUnwind" class="n" transform="translate(1393.2,483.6)"><rect width="143.9" height="25.4"/><text class="c" x="71.95" y="16.9">llvm::AANoUnwind</text></g>
<g id="nAANonNull" class="n" transform="translate(1400.5,576.6)"><rect width="129.4" height="25.4"/><text class="c" x="64.7" y="16.9">llvm::AANonNull</text></g>
<g id="nAAWillReturn" class="n" transform="translate(1393.2,670.6)"><rect width="143.9" height="25.4"/><text class="c" x="71.95" y="16.9">llvm::AAWillReturn</text></g>
<g id="nAAMustProgress" class="n" transform="translate(1382.1,1356.8)"><rect width="166.1" height="25.4"/><text class="c" x="83.05" y="16.9">llvm::AAMustProgress</text></g>
<g id="nAANoAlias" class="n" transform="translate(1401.7,1450.3)"><rect width="127" height="25.4"/><text class="c" x="63.5" y="16.9">llvm::AANoAlias</text></g>
<g id="nAANoFree" class="n" transform="translate(1404,1543.7)"><rect width="122.4" height="25.4"/><text class="c" x="61.2" y="16.9">llvm::AANoFree</text></g>
<g id="nAANoRecurse" class="n" transform="translate(1391.7,1636.7)"><rect width="147" height="25.4"/><text class="c" x="73.5" y="16.9">llvm::AANoRecurse</text></g>
<g id="nAANoReturn" class="n" transform="translate(1395.5,1730.6)"><rect width="139" height="25.4"/><text class="c" x="69.5" y="16.9">llvm::AANoReturn</text></g>
<g id="nAANoSync" class="n" transform="translate(1401.7,1823.6)"><rect width="127" height="25.4"/><text class="c" x="63.5" y="16.9">llvm::AANoSync</text></g>
<g id="nAANoUndef" class="n" transform="translate(1397.8,1917)"><rect width="134.8" height="25.4"/><text class="c" x="67.4" y="16.9">llvm::AANoUndef</text></g>
<g id="nAAAlign" class="n" transform="translate(1409.7,2018.4)"><rect width="110.6" height="25.4"/><text class="c" x="55.3" y="16.9">llvm::AAAlign</text></g>
<g id="nAAMemoryBehavior" class="n" transform="translate(1370.3,2175.9)"><rect width="190.2" height="25.4"/><text class="c" x="95.1" y="16.9">llvm::AAMemoryBehavior</text></g>
<g id="nAAMemoryLocation" class="n" transform="translate(1371.4,2284)"><rect width="187.2" height="25.4"/><text class="c" x="93.6" y="16.9">llvm::AAMemoryLocation</text></g>
<g id="nAANoCapture" class="n" transform="translate(1391.7,2391.8)"><rect width="147" height="25.4"/><text class="c" x="73.5" y="16.9">llvm::AANoCapture</text></g>
<g id="nAANoFPClass" class="n" transform="translate(1391.7,2499.5)"><rect width="147" height="25.4"/><text class="c" x="73.5" y="16.9">llvm::AANoFPClass</text></g>
</svg>
